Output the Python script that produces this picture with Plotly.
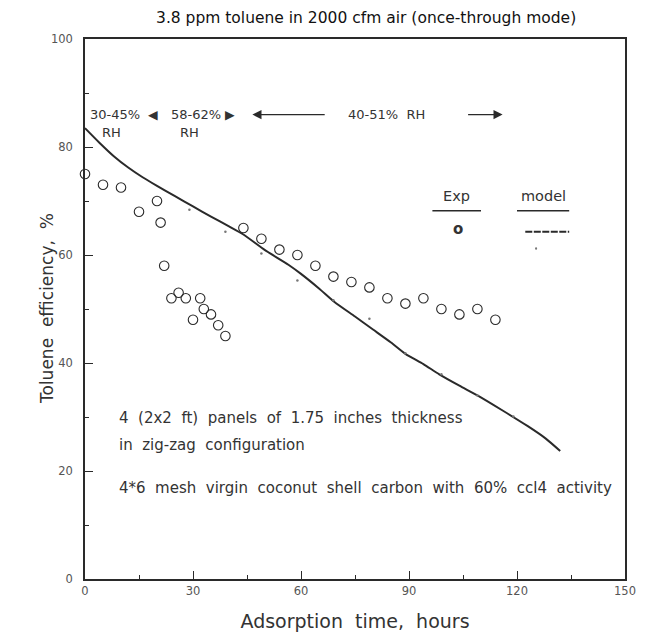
import plotly.graph_objects as go

# Experimental data (hours, efficiency %)
exp_time = [0, 5, 10, 15, 20, 21, 22, 24, 26, 28, 30, 32, 33, 35, 37, 39,
            44, 49, 54, 59, 64, 69, 74, 79, 84, 89, 94, 99, 104, 109, 114]
exp_eff = [75, 73, 72.5, 68, 70, 66, 58, 52, 53, 52, 48, 52, 50, 49, 47, 45,
           65, 63, 61, 60, 58, 56, 55, 54, 52, 51, 52, 50, 49, 50, 48]

# Model curve
model_time = [0, 4, 8, 12, 16, 20, 25, 30, 35, 40, 44, 50, 56.5, 60, 65, 69.3,
              75, 80, 85, 89, 94, 98.4, 104, 109, 116, 123, 128, 132]
model_eff = [83.5, 80.8, 78.3, 76.2, 74.4, 72.8, 70.9, 69.0, 67.1, 65.3, 63.8,
             60.9, 58.2, 56.5, 53.8, 51.3, 48.6, 46.2, 43.8, 41.7, 39.8, 37.9,
             35.8, 34.0, 31.2, 28.3, 26.0, 23.7]

# Model calculation points (small dots)
dot_time = [29, 39, 49, 59, 69, 79, 89, 99, 109, 119]
dot_eff = [68.4, 64.3, 60.3, 55.3, 51.6, 48.2, 41.8, 37.9, 34.0, 30.1]

x_ticks = [0, 30, 60, 90, 120, 150]
y_ticks = [0, 20, 40, 60, 80, 100]

ink = "#2a2a2a"
txt = "#333333"
FONT = "DejaVu Sans"

fig = go.Figure()
fig.add_trace(go.Scatter(x=model_time, y=model_eff, mode="lines",
                         line=dict(color=ink, width=2, shape="spline",
                                   smoothing=0.6),
                         showlegend=False, hoverinfo="skip"))
fig.add_trace(go.Scatter(x=dot_time, y=dot_eff, mode="markers",
                         marker=dict(size=2.5, color="#777"), showlegend=False))
fig.add_trace(go.Scatter(x=exp_time, y=exp_eff, mode="markers",
                         marker=dict(symbol="circle-open", size=9.5,
                                     color=ink, line=dict(width=1.1)),
                         showlegend=False, cliponaxis=False))

ann = []
def t(x, y, s, size=13, xanchor="center", **kw):
    ann.append(dict(x=x, y=y, xref="x", yref="y", text=s, showarrow=False,
                    xanchor=xanchor, yanchor="middle",
                    font=dict(family=FONT, size=size, color=txt), **kw))

# RH region labels
t(8.3, 86, "30-45%")
t(7.3, 82.6, "RH")
t(19, 86, "◀", size=12.5)
t(30.7, 86, "58-62%")
t(29, 82.6, "RH")
t(40.2, 86, "▶", size=12.5)
t(83.7, 86, "40-51%  RH")
# arrows
ann.append(dict(x=46.5, y=86, ax=67, ay=86, xref="x", yref="y", axref="x",
                ayref="y", text="", showarrow=True, arrowhead=2,
                arrowsize=1.3, arrowwidth=1.4, arrowcolor=ink))
ann.append(dict(x=116, y=86, ax=106, ay=86, xref="x", yref="y", axref="x",
                ayref="y", text="", showarrow=True, arrowhead=2,
                arrowsize=1.3, arrowwidth=1.4, arrowcolor=ink))

# legend key
t(103.3, 70.9, "Exp", size=14.5)
t(127.3, 70.9, "model", size=14.5)
t(103.5, 64.8, "<b>o</b>", size=15)

# notes
t(9.0, 29.8, "4  (2x2  ft)  panels  of  1.75  inches  thickness",
  size=15, xanchor="left")
t(9.0, 24.9, "in  zig-zag  configuration", size=15, xanchor="left")
t(9.0, 16.8,
  "4*6  mesh  virgin  coconut  shell  carbon  with  60%  ccl4  activity",
  size=15, xanchor="left")

# y-axis title
ann.append(dict(x=0, y=0.5, xref="paper", yref="paper", xshift=-38,
                text="Toluene  efficiency,  %", textangle=-90, showarrow=False,
                xanchor="center", yanchor="middle",
                font=dict(family=FONT, size=17, color="#333")))

shapes = [
    dict(type="line", xref="x", yref="y", x0=96.5, x1=110, y0=68.2, y1=68.2,
         line=dict(color=ink, width=1.6)),
    dict(type="line", xref="x", yref="y", x0=120, x1=134.5, y0=68.2, y1=68.2,
         line=dict(color=ink, width=1.6)),
    dict(type="line", xref="x", yref="y", x0=122.3, x1=134.5, y0=64.3, y1=64.3,
         line=dict(color=ink, width=2, dash="7px,1.5px")),
    dict(type="circle", xref="x", yref="y", x0=125.0, x1=125.6, y0=60.95,
         y1=61.45, fillcolor="#777", line=dict(width=0)),
]

fig.update_layout(
    width=648, height=641,
    margin=dict(l=85, r=12, t=39, b=61),
    paper_bgcolor="white", plot_bgcolor="white",
    title=dict(text="3.8 ppm toluene in 2000 cfm air (once-through mode)",
               x=0.565, xanchor="center", y=0.973, yanchor="middle",
               font=dict(family=FONT, size=15.5, color="#111")),
    annotations=ann, shapes=shapes,
    xaxis=dict(range=[0, 150], tickvals=x_ticks, ticks="inside", ticklen=8,
               tickcolor=ink, showline=True, linecolor=ink, linewidth=1.6,
               mirror=True, showgrid=False, zeroline=False,
               tickfont=dict(family=FONT, size=11.5, color="#555"),
               minor=dict(dtick=15, ticks="inside", ticklen=4, tickcolor=ink),
               title=dict(text="Adsorption  time,  hours", standoff=18,
                          font=dict(family=FONT, size=19, color="#333"))),
    yaxis=dict(range=[0, 100], tickvals=y_ticks, ticks="inside", ticklen=8,
               tickcolor=ink, showline=True, linecolor=ink, linewidth=1.6,
               mirror=True, showgrid=False, zeroline=False,
               ticklabelstandoff=8,
               tickfont=dict(family=FONT, size=11.5, color="#555"),
               minor=dict(dtick=10, ticks="inside", ticklen=4, tickcolor=ink)),
)

fig.write_html("out.html")
